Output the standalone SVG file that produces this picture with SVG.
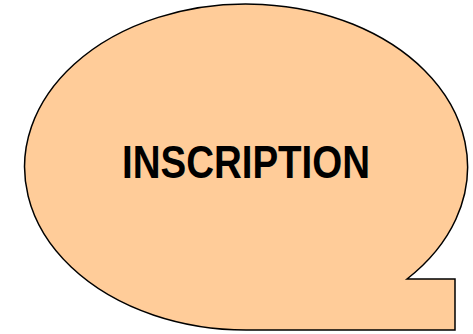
<svg xmlns="http://www.w3.org/2000/svg" width="473" height="334" viewBox="0 0 473 334">
<style>
.bubble{fill:#FFCC99;stroke:#000;stroke-width:1.5;stroke-linejoin:miter}
.label{font-family:"Liberation Sans",Arial,sans-serif;font-weight:bold;font-size:46px;fill:#000}
</style>
<g id="bubble">
<path class="bubble" d="M407,279 H455 V330 H246.5 A221.5,163 0 1 1 407,279 Z"/>
<text class="label" x="246" y="178" text-anchor="middle" textLength="248" lengthAdjust="spacingAndGlyphs">INSCRIPTION</text>
</g>
</svg>
